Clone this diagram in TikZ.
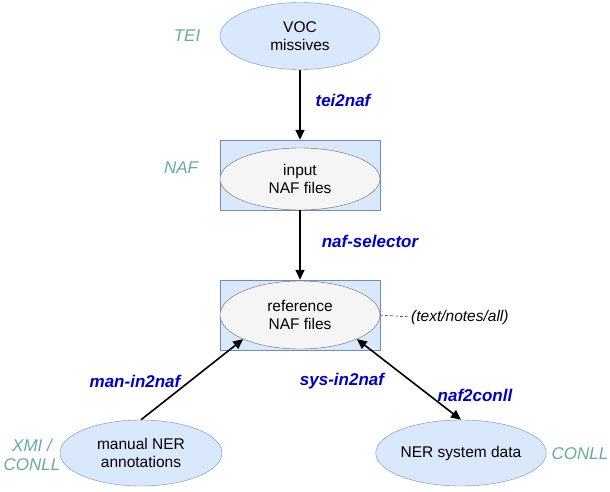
\documentclass[tikz,border=0pt]{standalone}
\usepackage{fontspec}
\setmainfont{Liberation Sans}
\usetikzlibrary{shapes.geometric,arrows.meta}
\definecolor{bfill}{HTML}{DAE8FC}
\definecolor{bdraw}{HTML}{6C8EBF}
\definecolor{gfill}{HTML}{F5F5F5}
\definecolor{gdraw}{HTML}{666666}
\definecolor{lgreen}{HTML}{67AB9F}
\definecolor{lblue}{HTML}{0000CC}
\begin{document}
\begin{tikzpicture}[x=1pt,y=-1pt,
  blueell/.style={ellipse,draw=bdraw,fill=bfill,minimum width=#1,align=center,font=\fontsize{15.5}{18}\selectfont,inner sep=0pt},
  grayell/.style={ellipse,draw=gdraw,fill=gfill,minimum width=160pt,minimum height=62pt,align=center,font=\fontsize{15.5}{18}\selectfont,inner sep=0pt},
  boxrect/.style={draw=bdraw,fill=bfill,minimum width=160pt,minimum height=70pt,inner sep=0pt},
  fmt/.style={text=lgreen,font=\fontsize{17}{19}\selectfont\itshape,align=center},
  tool/.style={text=lblue,font=\fontsize{17}{20}\selectfont\bfseries\itshape},
  arr/.style={-{Triangle[length=10pt,width=9pt]},line width=1.6pt},
  dbl/.style={{Triangle[length=10pt,width=9pt]}-{Triangle[length=10pt,width=9pt]},line width=1.6pt}
]
\useasboundingbox (0,0) rectangle (610,492);
\node[blueell=160pt,minimum height=67pt] (voc) at (300,36) {VOC\\missives};
\node[boxrect] (inbox) at (300,175) {};
\node[grayell] (in) at (300,179) {input\\NAF files};
\node[boxrect] (refbox) at (300,315) {};
\node[grayell,minimum height=68pt] (ref) at (300,315) {reference\\NAF files};
\node[blueell=162pt,minimum height=66pt] (man) at (141,453) {manual NER\\annotations};
\node[blueell=162pt,minimum height=66pt] (sys) at (461,453) {NER system data};

\node[fmt] (tei) at (187,36) {TEI};
\node[fmt] (naf) at (181,168) {NAF};
\node[fmt] (xmi) at (32,455) {XMI /\\CONLL};
\node[fmt] (conll) at (580,454) {CONLL};

\node[tool] (t1) at (343,100) {tei2naf};
\node[tool] (t2) at (370,241) {naf-selector};
\node[tool] (t3) at (135,381) {man-in2naf};
\node[tool] (t4) at (342,381) {sys-in2naf};
\node[tool] (t5) at (475,395) {naf2conll};

\node[font=\fontsize{15.5}{18}\selectfont\itshape,anchor=west,inner sep=0pt] (opt) at (411,317) {(text/notes/all)};

\draw[arr] (voc.south) -- (inbox.north);
\draw[arr] (inbox.south) -- (refbox.north);
\draw[arr] (man.north) -- (ref.-157);
\draw[dbl] (ref.-23) -- (sys.north);
\draw[dash pattern=on 3pt off 2pt] (ref.east) -- (opt.west);
\end{tikzpicture}
\end{document}
